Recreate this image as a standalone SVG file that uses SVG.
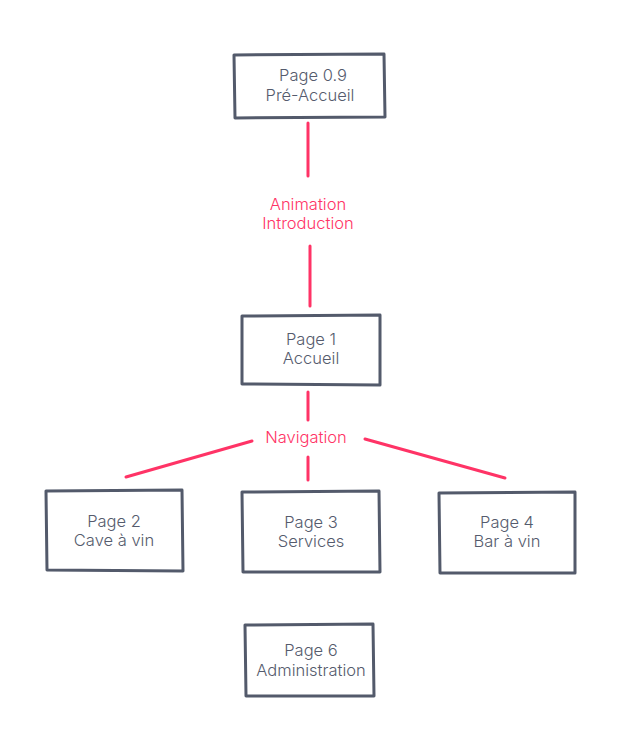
<svg xmlns="http://www.w3.org/2000/svg" width="621" height="750" viewBox="0 0 621 750">
<style>
.box{fill:#fff;stroke:#535a6b;stroke-width:3;stroke-linejoin:round}
.t{font-family:Inter,"Noto Sans",sans-serif;font-size:16.5px;font-weight:300;fill:#555b6d;text-anchor:middle}
.l{font-family:Inter,"Noto Sans",sans-serif;font-size:16.5px;font-weight:300;fill:#ff3366;text-anchor:middle}
.c{stroke:#ff3366;stroke-width:3;stroke-linecap:round;fill:none}
</style>
<rect width="621" height="750" fill="#fff"/>
<g id="connectors">
<line class="c" x1="308" y1="123" x2="308" y2="176"/>
<line class="c" x1="310" y1="246" x2="310" y2="306"/>
<line class="c" x1="308" y1="392" x2="308" y2="420"/>
<line class="c" x1="252" y1="441" x2="126" y2="477"/>
<line class="c" x1="308" y1="457" x2="308" y2="480"/>
<line class="c" x1="365" y1="439" x2="505" y2="478"/>
<text class="l" x="308" y="210">Animation</text>
<text class="l" x="308" y="229">Introduction</text>
<text class="l" x="306" y="443">Navigation</text>
</g>
<g id="n09">
<path class="box" d="M234 55 L384 54 L385 117 L235 118 Z"/>
<text class="t" x="313" y="81">Page 0.9</text>
<text class="t" x="310" y="101">Pré-Accueil</text>
</g>
<g id="n1">
<path class="box" d="M242 316 L380 315 L380 385 L242 384 Z"/>
<text class="t" x="311" y="345">Page 1</text>
<text class="t" x="311" y="364">Accueil</text>
</g>
<g id="n2">
<path class="box" d="M46 491 L182 490 L183 571 L47 570 Z"/>
<text class="t" x="114" y="527">Page 2</text>
<text class="t" x="114" y="546">Cave à vin</text>
</g>
<g id="n3">
<path class="box" d="M242 492 L379 491 L380 572 L243 572 Z"/>
<text class="t" x="311" y="528">Page 3</text>
<text class="t" x="311" y="547">Services</text>
</g>
<g id="n4">
<path class="box" d="M439 493 L575 492 L575 573 L440 573 Z"/>
<text class="t" x="507" y="528">Page 4</text>
<text class="t" x="507" y="547">Bar à vin</text>
</g>
<g id="n6">
<path class="box" d="M245 625 L373 624 L374 696 L246 696 Z"/>
<text class="t" x="311" y="656">Page 6</text>
<text class="t" x="311" y="676">Administration</text>
</g>
</svg>
